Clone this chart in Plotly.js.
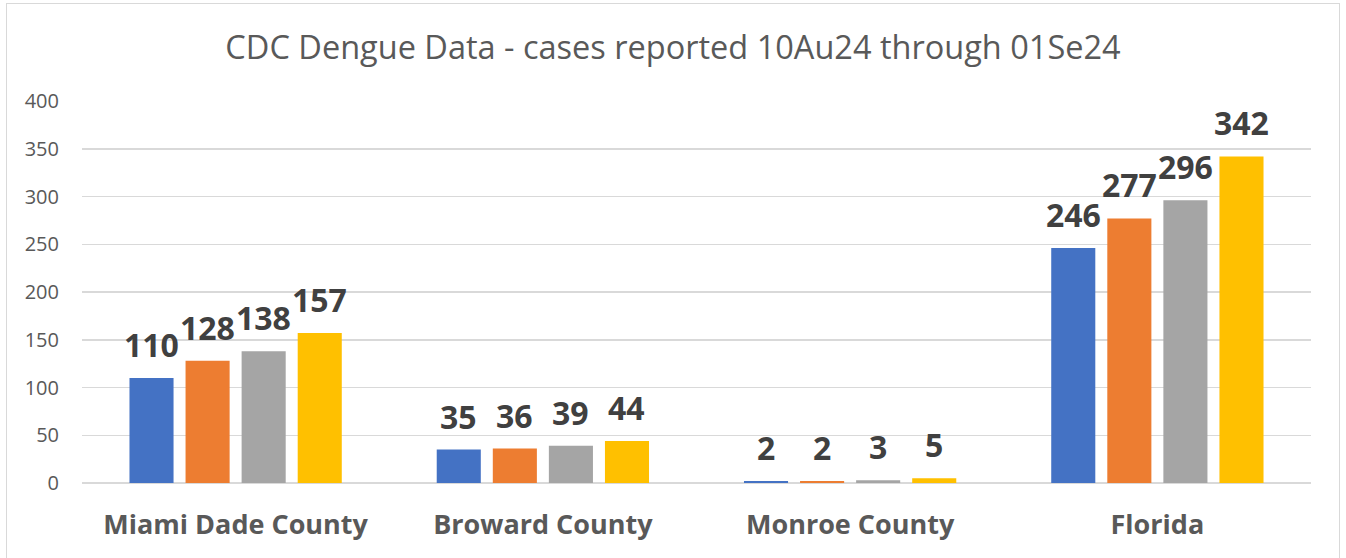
<!DOCTYPE html>
<html>
<head>
<meta charset="utf-8">
<script src="https://cdn.plot.ly/plotly-3.0.1.min.js"></script>
<style>
html,body{margin:0;padding:0;background:#fff;overflow:hidden;}
#frame{position:absolute;left:6px;top:3px;width:1334px;height:570px;border:1.5px solid #d9d9d9;box-sizing:border-box;}
#chart{position:absolute;left:0;top:0;width:1346px;height:558px;}
</style>
</head>
<body>
<div id="frame"></div>
<div id="chart"></div>
<script>
const categories = ["Miami Dade County", "Broward County", "Monroe County", "Florida"];
const seriesNames = ["Report 1", "Report 2", "Report 3", "Report 4"];
const series1 = [110, 35, 2, 246];
const series2 = [128, 36, 2, 277];
const series3 = [138, 39, 3, 296];
const series4 = [157, 44, 5, 342];
const yTicks = [0, 50, 100, 150, 200, 250, 300, 350, 400];

const allSeries = [series1, series2, series3, series4];
const colors = ["#4472C4", "#ED7D31", "#A5A5A5", "#FFC000"];

const W = 1346, H = 558;
const margin = {l: 82, r: 35, t: 101, b: 75};
const bargap = 0.27, bargroupgap = 0.214;

const traces = allSeries.map((vals, i) => ({
  type: "bar",
  name: seriesNames[i],
  x: categories,
  y: vals,
  marker: {color: colors[i]},
  hoverinfo: "x+y+name"
}));

const plotW = W - margin.l - margin.r;
const slotPx = plotW / categories.length * (1 - bargap) / allSeries.length;
const annotations = [];
allSeries.forEach((vals, i) => {
  vals.forEach((v, j) => {
    annotations.push({
      x: categories[j], y: v, xref: "x", yref: "y",
      text: String(v), showarrow: false,
      xanchor: "center", yanchor: "bottom",
      xshift: (i - (allSeries.length - 1) / 2) * slotPx,
      yshift: 10,
      font: {family: "Open Sans, sans-serif", size: 32, color: "#404040", weight: "bold"}
    });
  });
});

const layout = {
  width: W, height: H,
  margin: margin,
  paper_bgcolor: "rgba(0,0,0,0)",
  plot_bgcolor: "rgba(0,0,0,0)",
  showlegend: false,
  barmode: "group",
  bargap: bargap,
  bargroupgap: bargroupgap,
  title: {
    text: "CDC Dengue Data - cases reported 10Au24 through 01Se24",
    font: {family: "Open Sans, sans-serif", size: 32.5, color: "#595959"},
    x: 0.5, xanchor: "center", y: 1 - 48 / H, yanchor: "middle", yref: "container"
  },
  xaxis: {
    type: "category",
    tickfont: {family: "Open Sans, sans-serif", size: 27, color: "#595959", weight: "bold"},
    showgrid: false, showline: false, ticks: "",
    ticklabelstandoff: 23,
    zeroline: false
  },
  yaxis: {
    range: [0, 400],
    tickvals: yTicks,
    ticktext: yTicks.map(String),
    tickfont: {family: "Open Sans, sans-serif", size: 20, color: "#595959"},
    showgrid: true, gridcolor: "#d9d9d9", gridwidth: 1.5,
    zeroline: true, zerolinecolor: "#d9d9d9", zerolinewidth: 1.5,
    showline: false, ticks: "",
    ticklabelstandoff: 22
  },
  annotations: annotations
};

Plotly.newPlot("chart", traces, layout, {displayModeBar: false, staticPlot: true});
</script>
</body>
</html>
